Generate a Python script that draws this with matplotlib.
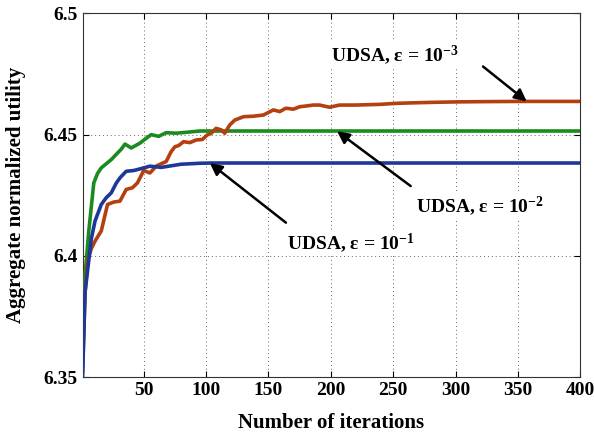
import matplotlib
matplotlib.use("Agg")
import matplotlib.pyplot as plt

plt.rcParams['font.family'] = ['Liberation Serif', 'DejaVu Serif']
plt.rcParams['font.weight'] = 'bold'
plt.rcParams['mathtext.fontset'] = 'custom'
plt.rcParams['mathtext.rm'] = 'Liberation Serif:bold'
plt.rcParams['mathtext.it'] = 'Liberation Serif:bold'
plt.rcParams['mathtext.bf'] = 'Liberation Serif:bold'
plt.rcParams['mathtext.default'] = 'rm'

# ---- data ----
x_blue = [1, 3, 5, 8, 11, 16, 20, 24, 28, 31, 36, 42, 48, 55, 64, 80, 95, 105, 400]
y_blue = [6.35, 6.385, 6.3938, 6.407, 6.4144, 6.4212, 6.424, 6.426, 6.430, 6.4322,
          6.4349, 6.4352, 6.436, 6.437, 6.4365, 6.4378, 6.4382, 6.4383, 6.4383]

x_green = [1, 3, 6, 10, 13, 16, 20, 24, 29, 32, 35, 40, 47, 52, 56, 62, 68, 76, 85, 95, 105, 400]
y_green = [6.365, 6.392, 6.4103, 6.4301, 6.434, 6.4363, 6.438, 6.4397, 6.4424, 6.444,
           6.4461, 6.4445, 6.4465, 6.4485, 6.450, 6.4493, 6.4508, 6.4506, 6.451, 6.4515,
           6.4515, 6.4515]

x_red = [1, 3, 5, 8, 11, 16, 21, 26, 31, 36, 41, 45, 50, 55, 60, 64, 68, 72, 75, 78, 82,
         87, 92, 97, 101, 104, 108, 112, 115, 119, 123, 130, 138, 146, 154, 159, 164, 170,
         175, 180, 186, 191, 199, 207, 220, 240, 252, 265, 280, 300, 320, 350, 400]
y_red = [6.352, 6.385, 6.3979, 6.403, 6.4061, 6.4103, 6.4212, 6.4222, 6.4226, 6.4274,
         6.4281, 6.4301, 6.4352, 6.4342, 6.437, 6.438, 6.4389, 6.443, 6.445, 6.4455,
         6.4471, 6.4467, 6.4478, 6.448, 6.4499, 6.4505, 6.4526, 6.452, 6.4506, 6.454,
         6.456, 6.4574, 6.4576, 6.4581, 6.4602, 6.4595, 6.4609, 6.4605, 6.4615, 6.4618,
         6.4622, 6.4622, 6.4613, 6.4622, 6.4622, 6.4625, 6.4629, 6.4631, 6.4633, 6.4635,
         6.4636, 6.4637, 6.4637]

x_ticks = [50, 100, 150, 200, 250, 300, 350, 400]
y_ticks = [6.35, 6.4, 6.45, 6.5]
y_ticklabels = ['6.35', '6.4', '6.45', '6.5']

labels = [r'UDSA, ε = 10$^{-3}$', r'UDSA, ε = 10$^{-2}$', r'UDSA, ε = 10$^{-1}$']
label_xy = [(200, 6.4801), (268, 6.4178), (165, 6.4027)]
arrow_tail = [(322, 6.4781), (264, 6.4288), (164, 6.4137)]
arrow_head = [(357, 6.4637), (205, 6.4514), (103, 6.4383)]

c_blue = '#1d3896'
c_green = '#1b8a1f'
c_red = '#b3400e'

fig = plt.figure(figsize=(5.94, 4.32), dpi=100)
ax = fig.add_axes([0.139, 0.127, 0.838, 0.842])

ax.plot(x_green, y_green, color=c_green, lw=2.6, zorder=3)
ax.plot(x_red, y_red, color=c_red, lw=2.6, zorder=4)
ax.plot(x_blue, y_blue, color=c_blue, lw=2.6, zorder=5)

ax.set_xlim(1, 400)
ax.set_ylim(6.35, 6.5)
ax.set_xticks(x_ticks)
ax.set_yticks(y_ticks)
ax.set_yticklabels(y_ticklabels)
ax.tick_params(direction='in', top=True, right=True, labelsize=14, length=4, width=0.8)
for lab in ax.get_xticklabels() + ax.get_yticklabels():
    lab.set_fontweight('bold')
ax.grid(True, linestyle=(0, (1, 3)), color='#666666', lw=0.7)
for s in ax.spines.values():
    s.set_linewidth(0.8)
    s.set_color('#333333')

ax.set_xlabel('Number of iterations', fontsize=15, fontweight='bold', labelpad=10)
ax.set_ylabel('Aggregate normalized utility', fontsize=15, fontweight='bold', labelpad=13)

for lab, pos, tail, head in zip(labels, label_xy, arrow_tail, arrow_head):
    ax.text(pos[0], pos[1], lab, fontsize=14, fontweight='bold', ha='left', va='baseline',
            zorder=6, bbox=dict(facecolor='white', edgecolor='none', pad=1))
    ax.annotate('', xy=head, xytext=tail,
                arrowprops=dict(arrowstyle='-|>', color='k', lw=1.8, mutation_scale=18,
                                shrinkA=0, shrinkB=0), zorder=7)

fig.savefig('out.png', dpi=100)
